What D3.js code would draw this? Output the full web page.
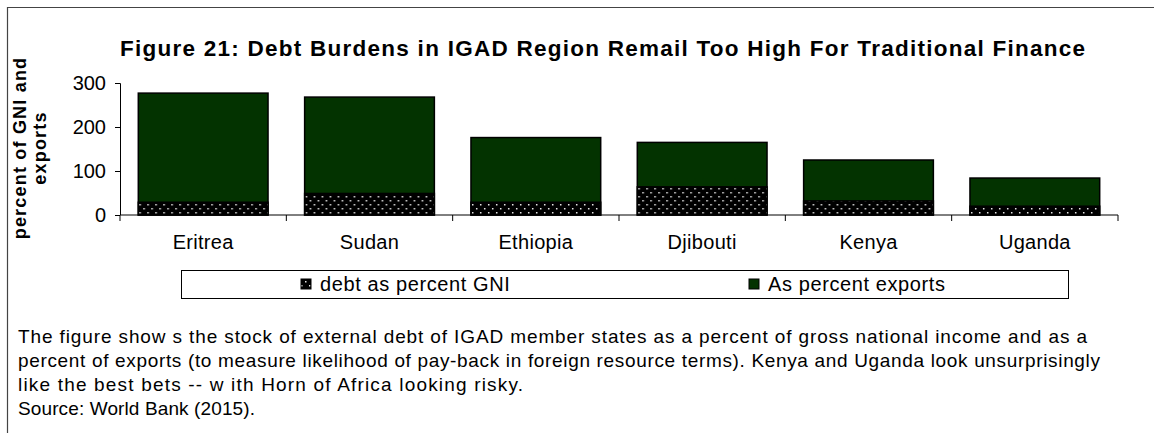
<!DOCTYPE html>
<html>
<head>
<meta charset="utf-8">
<script src="https://cdn.jsdelivr.net/npm/d3@7"></script>
<style>
  body { margin: 0; background: #fff; }
  text { font-family: "Liberation Sans", Arial, sans-serif; fill: #000; }
</style>
</head>
<body>
<div id="chart"></div>
<script>
// data
var countries = ["Eritrea", "Sudan", "Ethiopia", "Djibouti", "Kenya", "Uganda"];
var debtGNI = [29, 49, 29, 64, 32, 20];
var debtExports = [277, 268, 176, 165, 125, 84];
var yTicks = [0, 100, 200, 300];
var seriesNames = ["debt as percent GNI", "As percent exports"];
var captionLines = [
  "The figure show s the stock of external debt of IGAD member states as a percent of gross national income and as a",
  "percent of exports (to measure likelihood of pay-back in foreign resource terms). Kenya and Uganda look unsurprisingly",
  "like the best bets -- w ith Horn of Africa looking risky.",
  "Source: World Bank (2015)."
];

var W = 1154, H = 433;
var margin = {top: 83, left: 120, right: 36, bottom: 218};
var width = W - margin.left - margin.right,
    height = H - margin.top - margin.bottom;

var green = "#033300";
// widths the caption lines take in the picture (text is spread out)
var captionWidths = [1069, 1082, 505, 237];

var svg = d3.select("#chart").append("svg")
    .attr("width", W)
    .attr("height", H);

// dotted fill for the GNI part
var pat = svg.append("defs").append("pattern")
    .attr("id", "dots")
    .attr("patternUnits", "userSpaceOnUse")
    .attr("width", 8)
    .attr("height", 8);
pat.append("rect").attr("width", 8).attr("height", 8).attr("fill", "#000");
pat.append("rect").attr("x", 1).attr("y", 1).attr("width", 1.5).attr("height", 1.5).attr("fill", "#e8e8e8");
pat.append("rect").attr("x", 5).attr("y", 5).attr("width", 1.5).attr("height", 1.5).attr("fill", "#e8e8e8");

// frame lines (top and left)
svg.append("path")
    .attr("d", "M7.5," + H + "V7.5H" + W)
    .attr("fill", "none")
    .attr("stroke", "#444")
    .attr("stroke-width", 1.2);

// title
svg.append("text")
    .attr("x", 120)
    .attr("y", 56)
    .attr("textLength", 965)
    .attr("lengthAdjust", "spacing")
    .style("font-size", "22.5px")
    .style("font-weight", "bold")
    .text("Figure 21: Debt Burdens in IGAD Region Remail Too High For Traditional Finance");

var g = svg.append("g")
    .attr("transform", "translate(" + margin.left + "," + margin.top + ")");

var x = d3.scaleBand().domain(countries).range([0, width]).paddingInner(0.22).paddingOuter(0.11);
var y = d3.scaleLinear().domain([0, 300]).range([height, 0]);

// bars: exports is the full height, GNI sits at the bottom
var bars = g.selectAll(".bar")
    .data(countries)
    .enter().append("g")
    .attr("transform", function(d) { return "translate(" + x(d) + ",0)"; });

bars.append("rect")
    .attr("y", function(d, i) { return y(debtExports[i]); })
    .attr("width", x.bandwidth())
    .attr("height", function(d, i) { return height - y(debtExports[i]); })
    .attr("fill", green)
    .attr("stroke", "#000")
    .attr("stroke-width", 1.5);

bars.append("rect")
    .attr("y", function(d, i) { return y(debtGNI[i]); })
    .attr("width", x.bandwidth())
    .attr("height", function(d, i) { return height - y(debtGNI[i]); })
    .attr("fill", "url(#dots)")
    .attr("stroke", "#000")
    .attr("stroke-width", 1.5);

// y axis
var yAxis = g.append("g")
    .call(d3.axisLeft(y).tickValues(yTicks).tickSize(5).tickPadding(9));
yAxis.select(".domain").attr("d", "M-5,0.5H0.5V" + height);
yAxis.selectAll("text").style("font-size", "20px").attr("font-family", null);

// x axis with ticks between the categories
var xAxis = g.append("g")
    .attr("transform", "translate(0," + height + ")");
xAxis.append("line")
    .attr("x1", 0).attr("x2", width)
    .attr("stroke", "#000");
var step = x.step();
var edges = d3.range(countries.length + 1).map(function(i) { return x(countries[0]) - x.paddingInner() * step / 2 + i * step; });
xAxis.selectAll(".tk")
    .data(edges)
    .enter().append("line")
    .attr("x1", function(d) { return d; })
    .attr("x2", function(d) { return d; })
    .attr("y1", 0).attr("y2", 6)
    .attr("stroke", "#000");
xAxis.selectAll(".lbl")
    .data(countries)
    .enter().append("text")
    .attr("x", function(d) { return x(d) + x.bandwidth() / 2; })
    .attr("y", 34)
    .attr("text-anchor", "middle")
    .style("font-size", "20px")
    .style("letter-spacing", "0.3px")
    .text(function(d) { return d; });

// y label
var yLab = svg.append("text")
    .attr("transform", "translate(0,148) rotate(-90)")
    .attr("text-anchor", "middle")
    .style("font-size", "18px")
    .style("font-weight", "bold")
    .style("letter-spacing", "1.2px");
yLab.append("tspan").attr("x", 0).attr("y", 26).text("percent of GNI and");
yLab.append("tspan").attr("x", 0).attr("y", 46).text("exports");

// legend
var leg = svg.append("g");
leg.append("rect")
    .attr("x", 181.5).attr("y", 270.5)
    .attr("width", 887).attr("height", 28)
    .attr("fill", "#fff")
    .attr("stroke", "#000");
var legX = [301, 749];
var legFill = ["url(#dots)", green];
seriesNames.forEach(function(name, i) {
  leg.append("rect")
    .attr("x", legX[i]).attr("y", 279)
    .attr("width", 10).attr("height", 10)
    .attr("fill", legFill[i])
    .attr("stroke", "#000");
  leg.append("text")
    .attr("x", legX[i] + 19).attr("y", 291)
    .style("font-size", "20px")
    .style("letter-spacing", "0.6px")
    .text(name);
});

// caption under the chart
svg.selectAll(".cap")
    .data(captionLines)
    .enter().append("text")
    .attr("x", 18)
    .attr("y", function(d, i) { return 343 + i * 24; })
    .attr("textLength", function(d, i) { return captionWidths[i]; })
    .attr("lengthAdjust", "spacing")
    .style("font-size", "19px")
    .text(function(d) { return d; });
</script>
</body>
</html>
